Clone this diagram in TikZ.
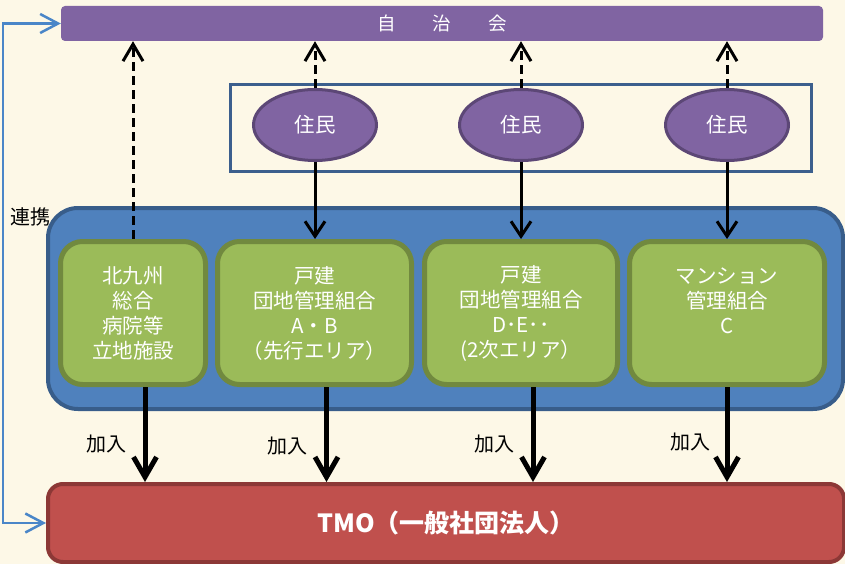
\documentclass[tikz,border=0pt]{standalone}
\usepackage{fontspec}
\setmainfont{Noto Sans CJK JP}
\usetikzlibrary{arrows.meta,shapes.geometric}
\definecolor{cream}{HTML}{FDF8E7}
\definecolor{purplefill}{HTML}{8064A2}
\definecolor{purpleline}{HTML}{5C4776}
\definecolor{frameblue}{HTML}{3C5F8D}
\definecolor{bluefill}{HTML}{4F81BD}
\definecolor{blueline}{HTML}{385D8A}
\definecolor{greenfill}{HTML}{9BBB59}
\definecolor{greenline}{HTML}{71893F}
\definecolor{redfill}{HTML}{C0504D}
\definecolor{redline}{HTML}{8C3836}
\definecolor{linkblue}{HTML}{4A86C8}

\begin{document}
\begin{tikzpicture}[x=1pt,y=-1pt,
  bar/.style={fill=purplefill, rounded corners=4pt, minimum width=762pt, minimum height=35pt, inner sep=0pt, text=white, font=\fontsize{18.5}{20}\selectfont},
  waku/.style={draw=frameblue, line width=3pt, minimum width=581pt, minimum height=87pt, inner sep=0pt},
  resident/.style={ellipse, draw=purpleline, line width=3pt, fill=purplefill, minimum width=123pt, minimum height=71pt, inner sep=0pt, text=white, font=\fontsize{20.5}{22}\selectfont},
  renkeibox/.style={draw=blueline, line width=4pt, fill=bluefill, rounded corners=30pt, minimum width=795pt, minimum height=201pt, inner sep=0pt},
  kumiai/.style={draw=greenline, line width=5pt, fill=greenfill, rounded corners=22pt, minimum height=143pt, inner sep=0pt, text=white, align=center, font=\fontsize{20.5}{25}\selectfont},
  tmobox/.style={draw=redline, line width=4pt, fill=redfill, rounded corners=15pt, minimum width=796pt, minimum height=78pt, inner sep=0pt, text=white, font=\fontsize{25}{28}\selectfont\bfseries},
  plain/.style={font=\fontsize{20}{22}\selectfont},
  dasharrow/.style={-{Straight Barb[length=17pt,width=20pt]}, line width=3pt, dash pattern=on 9pt off 5pt},
  downarrow/.style={-{Straight Barb[length=15pt,width=20pt]}, line width=3pt},
  joinarrow/.style={-{Straight Barb[length=20pt,width=23pt]}, line width=5pt},
  link/.style={{Straight Barb[length=18pt,width=19pt]}-{Straight Barb[length=18pt,width=19pt]}, draw=linkblue, line width=2.5pt}
]
\useasboundingbox[fill=cream] (0,0) rectangle (845,564);

\node[bar] (jichikai) at (442,23.5) {自　　治　　会};
\node[waku] (juminwaku) at (521,128) {};
\node[resident] (j1) at (315,125) {住民};
\node[resident] (j2) at (521,125) {住民};
\node[resident] (j3) at (727,125) {住民};

\node[renkeibox] (renkei) at (445.5,308.5) {};
\node[plain] (renkeilabel) at (30,217) {連携};

\node[kumiai, minimum width=145pt] (k1) at (133,313) {北九州\\総合\\病院等\\立地施設};
\node[kumiai, minimum width=194pt] (k2) at (314.5,313) {戸建\\団地管理組合\\A・B\\（先行エリア）};
\node[kumiai, minimum width=193pt] (k3) at (521,313) {戸建\\団地管理組合\\D･E･･\\(2次エリア）};
\node[kumiai, minimum width=195pt] (k4) at (727,313) {マンション\\管理組合\\C\\\phantom{C}};

\node[tmobox] (tmo) at (446,523) {TMO（一般社団法人）};

\draw[dasharrow] (k1.north) -- (k1.north |- jichikai.south);
\draw[dasharrow] (j1.north) -- (j1.north |- jichikai.south);
\draw[dasharrow] (j2.north) -- (j2.north |- jichikai.south);
\draw[dasharrow] (j3.north) -- (j3.north |- jichikai.south);

\draw[downarrow] (j1.south) -- (j1.south |- k2.north);
\draw[downarrow] (j2.south) -- (j2.south |- k3.north);
\draw[downarrow] (j3.south) -- (j3.south |- k4.north);

\draw[joinarrow] ([xshift=12pt]k1.south) -- ([xshift=12pt]k1.south |- tmo.north) node[plain, pos=0.6, left=13pt] (kanyu1) {加入};
\draw[joinarrow] ([xshift=12pt]k2.south) -- ([xshift=12pt]k2.south |- tmo.north) node[plain, pos=0.62, left=13pt] (kanyu2) {加入};
\draw[joinarrow] ([xshift=12pt]k3.south) -- ([xshift=12pt]k3.south |- tmo.north) node[plain, pos=0.6, left=13pt] (kanyu3) {加入};
\draw[joinarrow] (k4.south) -- (k4.south |- tmo.north) node[plain, pos=0.58, left=11pt] (kanyu4) {加入};

\coordinate (linkcorner) at (3,23.5);
\draw[link] (jichikai.west) -- (linkcorner) |- (tmo.west);
\end{tikzpicture}
\end{document}
